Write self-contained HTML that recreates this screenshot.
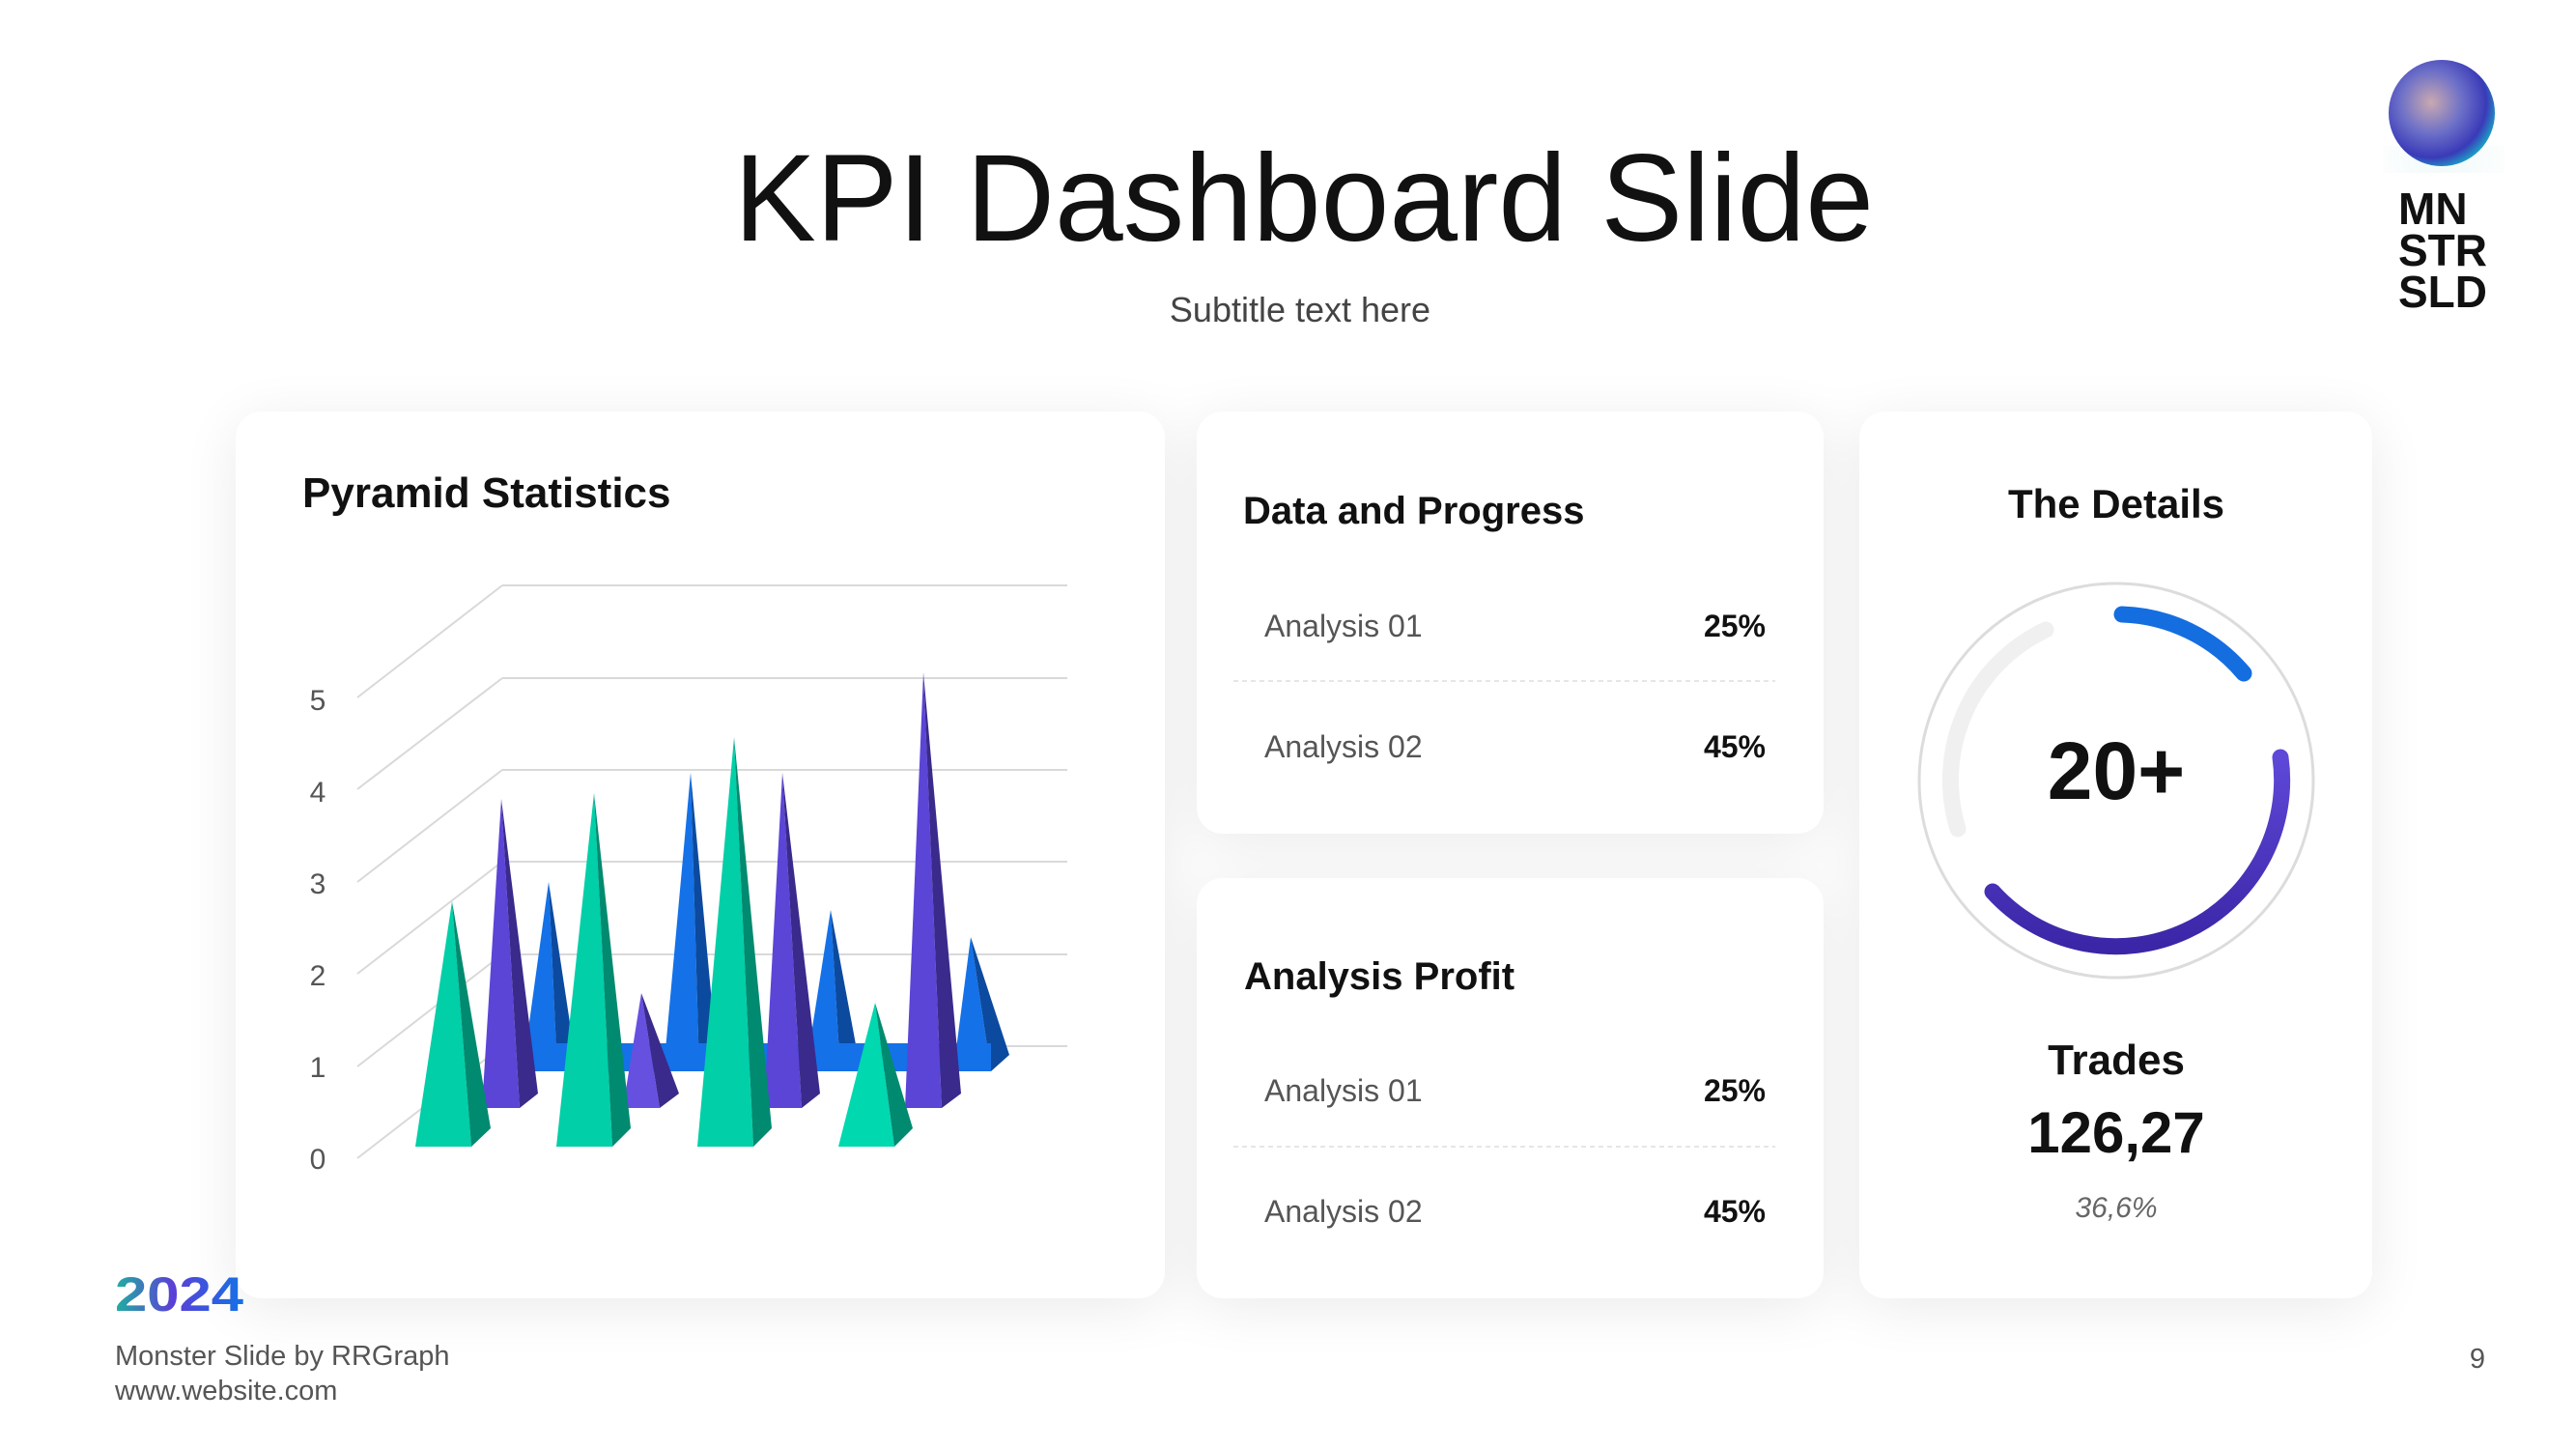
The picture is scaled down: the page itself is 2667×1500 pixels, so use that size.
<!DOCTYPE html>
<html><head><meta charset="utf-8"><style>
html,body{margin:0;padding:0;background:#fff}
svg{display:block}
text{font-family:"Liberation Sans",sans-serif}
</style></head><body>
<svg width="2667" height="1500" viewBox="0 0 2667 1500" xmlns="http://www.w3.org/2000/svg">
<defs>
<filter id="sh" x="-20%" y="-20%" width="140%" height="140%"><feGaussianBlur stdDeviation="30"/></filter>
<radialGradient id="ball" cx="40%" cy="40%" r="65%">
<stop offset="0" stop-color="#c9a9b0"/><stop offset="0.45" stop-color="#6d70c8"/><stop offset="0.8" stop-color="#3a3ab8"/><stop offset="1" stop-color="#1aa7c8"/></radialGradient>
<linearGradient id="yr" x1="0" x2="1"><stop offset="0" stop-color="#1fb0a0"/><stop offset="0.45" stop-color="#5b3fd6"/><stop offset="1" stop-color="#1472e6"/></linearGradient>
<linearGradient id="pg" x1="0" y1="0" x2="0" y2="1"><stop offset="0" stop-color="#5e48d8"/><stop offset="1" stop-color="#3a26a6"/></linearGradient>
</defs>
<rect width="2667" height="1500" fill="#fff"/>
<!-- shadows -->
<g fill="#000" opacity="0.08" filter="url(#sh)">
<rect x="244" y="436" width="962" height="918" rx="27"/>
<rect x="1239" y="436" width="649" height="437" rx="27"/>
<rect x="1239" y="919" width="649" height="435" rx="27"/>
<rect x="1925" y="436" width="531" height="918" rx="27"/>
</g>
<g fill="#fff">
<rect x="244" y="426" width="962" height="918" rx="27"/>
<rect x="1239" y="426" width="649" height="437" rx="27"/>
<rect x="1239" y="909" width="649" height="435" rx="27"/>
<rect x="1925" y="426" width="531" height="918" rx="27"/>
</g>
<!-- title -->
<text x="1350" y="249" font-size="128" text-anchor="middle" fill="#111" textLength="1180" lengthAdjust="spacingAndGlyphs">KPI Dashboard Slide</text>
<text x="1346" y="333" font-size="36" text-anchor="middle" fill="#444">Subtitle text here</text>
<!-- logo -->
<ellipse cx="2530" cy="165" rx="45" ry="10" fill="#1aa090" opacity="0.25" filter="url(#sh)"/>
<circle cx="2528" cy="117" r="55" fill="url(#ball)"/>
<g font-size="46" font-weight="bold" fill="#111">
<text x="2483" y="232">MN</text><text x="2483" y="275">STR</text><text x="2483" y="318">SLD</text></g>
<!-- card1 -->
<text x="313" y="525" font-size="44" font-weight="bold" fill="#111">Pyramid Statistics</text>
<g stroke="#d9d9d9" stroke-width="2" fill="none">
<path d="M520 606H1105M370 722L520 606"/>
<path d="M520 702H1105M370 817L520 702"/>
<path d="M520 797H1105M370 913L520 797"/>
<path d="M520 892H1105M370 1008L520 892"/>
<path d="M520 988H1105M370 1104L520 988"/>
<path d="M520 1083H1105M370 1199L520 1083"/>
</g>
<g font-size="30" fill="#555" text-anchor="middle">
<text x="329" y="735">5</text><text x="329" y="830">4</text><text x="329" y="925">3</text><text x="329" y="1020">2</text><text x="329" y="1115">1</text><text x="329" y="1210">0</text></g>
<!-- blue back row -->
<g>
<polygon points="568,913 541,1109 577,1109" fill="#1471e8"/><polygon points="568,913 577,1109 595,1092" fill="#0b4a9e"/>
<polygon points="715,800 687,1109 724,1109" fill="#1471e8"/><polygon points="715,800 724,1109 742,1092" fill="#0b4a9e"/>
<polygon points="860,942 834,1109 870,1109" fill="#1471e8"/><polygon points="860,942 870,1109 888,1092" fill="#0b4a9e"/>
<polygon points="1005,970 987,1109 1026,1109" fill="#1471e8"/><polygon points="1005,970 1026,1109 1045,1092" fill="#0b4a9e"/>
<rect x="541" y="1080" width="485" height="29" fill="#1471e8"/>
</g>
<!-- purple mid row -->
<g>
<polygon points="519,827 499,1147 538,1147" fill="#5b45d6"/><polygon points="519,827 538,1147 557,1132" fill="#3a2a8c"/>
<polygon points="664,1028 645,1147 683,1147" fill="#6650e0"/><polygon points="664,1028 683,1147 703,1132" fill="#3a2a8c"/>
<polygon points="810,800 791,1147 830,1147" fill="#5b45d6"/><polygon points="810,800 830,1147 849,1132" fill="#3a2a8c"/>
<polygon points="956,696 937,1147 975,1147" fill="#5b45d6"/><polygon points="956,696 975,1147 995,1132" fill="#3a2a8c"/>
</g>
<!-- green front row -->
<g>
<polygon points="468,933 430,1187 488,1187" fill="#00cfa8"/><polygon points="468,933 488,1187 508,1168" fill="#008a70"/>
<polygon points="615,821 576,1187 634,1187" fill="#00cfa8"/><polygon points="615,821 634,1187 653,1168" fill="#008a70"/>
<polygon points="760,763 722,1187 780,1187" fill="#00cfa8"/><polygon points="760,763 780,1187 799,1168" fill="#008a70"/>
<polygon points="906,1038 868,1187 926,1187" fill="#00d8b0"/><polygon points="906,1038 926,1187 945,1168" fill="#008a70"/>
</g>
<!-- card2 -->
<text x="1287" y="542" font-size="40" font-weight="bold" fill="#111">Data and Progress</text>
<text x="1309" y="659" font-size="32" fill="#555">Analysis 01</text>
<text x="1828" y="659" font-size="32" font-weight="bold" fill="#111" text-anchor="end">25%</text>
<line x1="1277" y1="705" x2="1838" y2="705" stroke="#ddd" stroke-width="1.5" stroke-dasharray="5,4"/>
<text x="1309" y="784" font-size="32" fill="#555">Analysis 02</text>
<text x="1828" y="784" font-size="32" font-weight="bold" fill="#111" text-anchor="end">45%</text>
<!-- card3 -->
<text x="1288" y="1024" font-size="40" font-weight="bold" fill="#111">Analysis Profit</text>
<text x="1309" y="1140" font-size="32" fill="#555">Analysis 01</text>
<text x="1828" y="1140" font-size="32" font-weight="bold" fill="#111" text-anchor="end">25%</text>
<line x1="1277" y1="1187" x2="1838" y2="1187" stroke="#ddd" stroke-width="1.5" stroke-dasharray="5,4"/>
<text x="1309" y="1265" font-size="32" fill="#555">Analysis 02</text>
<text x="1828" y="1265" font-size="32" font-weight="bold" fill="#111" text-anchor="end">45%</text>
<!-- card4 -->
<text x="2191" y="536" font-size="42" font-weight="bold" fill="#111" text-anchor="middle">The Details</text>
<circle cx="2191" cy="808" r="204" fill="none" stroke="#dcdcdc" stroke-width="3"/>
<g fill="none" stroke-width="17" stroke-linecap="round">
<path d="M2027 858 A172 172 0 0 1 2118 652" stroke="#f0f0f0"/>
<path d="M2197 636 A172 172 0 0 1 2323 697" stroke="#146ee0"/>
<path d="M2361 784 A172 172 0 0 1 2063 923" stroke="url(#pg)"/>
</g>
<text x="2191" y="827" font-size="84" font-weight="bold" fill="#111" text-anchor="middle">20+</text>
<text x="2191" y="1112" font-size="44" font-weight="bold" fill="#111" text-anchor="middle">Trades</text>
<text x="2191" y="1193" font-size="60" font-weight="bold" fill="#111" text-anchor="middle">126,27</text>
<text x="2191" y="1260" font-size="30" font-style="italic" fill="#666" text-anchor="middle">36,6%</text>
<!-- footer -->
<text x="119" y="1357" font-size="50" font-weight="bold" fill="url(#yr)" textLength="133" lengthAdjust="spacingAndGlyphs">2024</text>
<text x="119" y="1413" font-size="29" fill="#555">Monster Slide by RRGraph</text>
<text x="119" y="1449" font-size="29" fill="#555">www.website.com</text>
<text x="2573" y="1416" font-size="29" fill="#555" text-anchor="end">9</text>
</svg>
</body></html>
